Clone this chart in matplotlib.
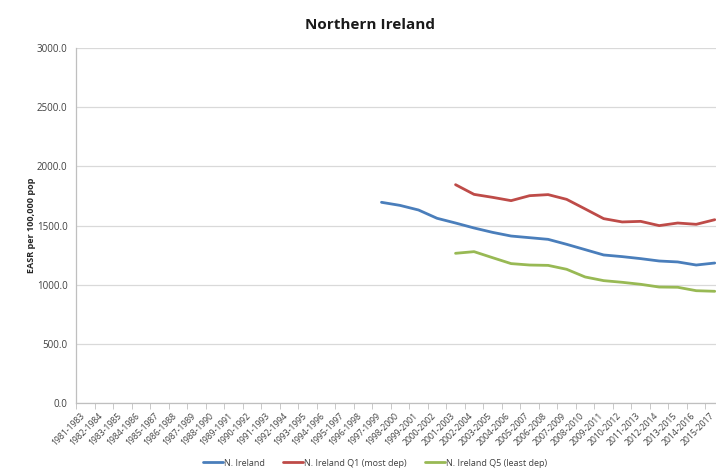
import matplotlib
matplotlib.use("Agg")
import matplotlib.pyplot as plt
import numpy as np

categories = [f"{y}-{y+2}" for y in range(1981, 2016)]

ni_start = "1997-1999"
ni_values = [1696, 1670, 1631, 1561, 1521, 1479, 1442, 1411, 1397, 1383,
             1341, 1296, 1251, 1237, 1220, 1200, 1192, 1166, 1183]

q1_start = "2001-2003"
q1_values = [1845, 1763, 1738, 1710, 1752, 1761, 1721, 1640, 1558, 1530,
             1535, 1499, 1521, 1510, 1549]

q5_start = "2001-2003"
q5_values = [1265, 1279, 1228, 1178, 1166, 1163, 1130, 1065, 1034, 1020,
             1003, 980, 978, 949, 944]

series = [
    ("N. Ireland", ni_start, ni_values, "#4a7ebb"),
    ("N. Ireland Q1 (most dep)", q1_start, q1_values, "#be4b48"),
    ("N. Ireland Q5 (least dep)", q5_start, q5_values, "#98b954"),
]

plt.rcParams['font.family'] = ['Open Sans', 'DejaVu Sans']

fig = plt.figure(figsize=(7.16, 4.76), dpi=100)
ax = fig.add_axes([76/716, 1-403/476, 648/716, 355/476])

for name, start, vals, color in series:
    i0 = categories.index(start)
    x = np.arange(i0, i0 + len(vals))
    ax.plot(x, vals, color=color, lw=2.0, label=name, solid_capstyle='round')

ax.set_xlim(-0.5, len(categories) - 0.5)
ax.set_ylim(0, 3000)
ax.set_yticks(np.arange(0, 3001, 500))
ax.set_yticklabels([f"{v:.1f}" for v in np.arange(0, 3001, 500)], fontsize=7, color='#404040')
# label anchors slightly left of category centres (as in the reference)
ax.set_xticks(np.arange(len(categories)) - 0.3)
ax.set_xticklabels(categories, rotation=45, ha='right', va='top', fontsize=6.2,
                   color='#404040', rotation_mode='anchor')
ax.set_xticks(np.arange(len(categories) + 1) - 0.5, minor=True)
ax.tick_params(axis='x', which='major', length=0, pad=6)
ax.tick_params(axis='x', which='minor', length=4, color='#bfbfbf', direction='out')
ax.tick_params(axis='y', length=0, pad=6)

ax.grid(axis='y', color='#d9d9d9', lw=0.9)
ax.set_axisbelow(True)
for s in ['top', 'right']:
    ax.spines[s].set_visible(False)
for s in ['left', 'bottom']:
    ax.spines[s].set_color('#bfbfbf')
    ax.spines[s].set_linewidth(0.9)

ax.set_ylabel("EASR per 100,000 pop", fontsize=6.5, fontweight='bold', color='#262626', labelpad=1)

fig.text(370/716, 1-25/476, "Northern Ireland", ha='center', va='center',
         fontsize=11, fontweight='bold', color='#1a1a1a')

leg = fig.legend(loc='center', bbox_to_anchor=(375/716, 1-463/476), ncol=3, frameon=False,
                 fontsize=6.5, handlelength=2.2, columnspacing=2.0, handletextpad=0.15)
for t in leg.get_texts():
    t.set_color('#404040')

fig.savefig("out.png", dpi=100)
